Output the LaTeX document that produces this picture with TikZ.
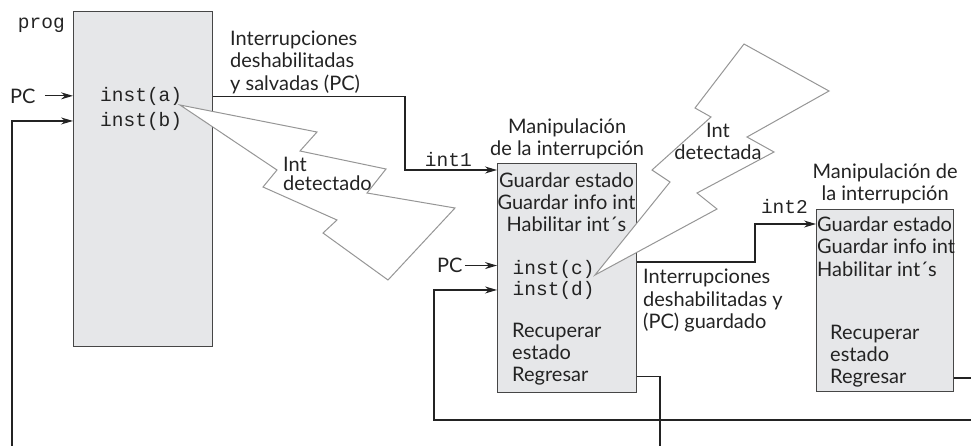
\documentclass[tikz,border=0pt]{standalone}
\usepackage{fontspec}
\setmainfont{Lato}
\setmonofont{Liberation Mono}
\usetikzlibrary{arrows.meta,positioning}
\definecolor{ink}{RGB}{35,35,35}
\definecolor{frame}{RGB}{70,70,70}
\definecolor{panel}{RGB}{230,231,233}
\definecolor{zap}{RGB}{150,150,150}
\tikzset{
  box/.style={draw=frame,fill=panel,line width=1.2pt,inner sep=0pt,anchor=north west},
  txt/.style={font=\fontsize{20}{22.3}\selectfont,text=ink,inner sep=0pt},
  mono/.style={font=\ttfamily\fontsize{19.5}{21}\selectfont,text=ink,inner sep=0pt},
  flow/.style={-{Stealth[length=12pt,width=7pt]},line width=1.1pt,draw=ink},
  wire/.style={line width=1.1pt,draw=ink},
  % lightning
  bolt/.style={draw=zap,fill=white,line width=1pt,line join=miter},
}

\begin{document}
\begin{tikzpicture}[x=1pt,y=-1pt]
    \useasboundingbox (0,0) rectangle (971,445);
    % boxes
    \node[box,minimum width=139pt,minimum height=335pt] (prog) at (73,11) {};
    \node[box,minimum width=139pt,minimum height=229pt] (h1) at (497,163) {};
    \node[box,minimum width=137pt,minimum height=182pt] (h2) at (816,209) {};
    % program
    \node[mono,anchor=base east] (pg) at (65,28) {prog};
    \node[txt,anchor=base west] (pc1) at (10,103) {PC};
    \node[mono,anchor=base west] (ia) at (100,101.5) {inst(a)};
    \node[mono,anchor=base west] (ib) at (100,126) {inst(b)};
    % first handler
    \node[txt,align=center,above=4pt of h1] (t1) {Manipulación\\de la interrupción};
    \node[txt,align=center,anchor=base] (g1) at (566.5,231.7) {Guardar estado\\Guardar info int\\Habilitar int´s};
    \node[txt,anchor=base west] (pc2) at (437,272.7) {PC};
    \node[mono,anchor=base west] (ic) at (512.5,274.3) {inst(c)};
    \node[mono,anchor=base west] (id) at (512.5,295) {inst(d)};
    \node[txt,align=left,anchor=base west] (r1) at (512,359.5) {Recuperar\\estado};
    \node[txt,anchor=base west] (rg1) at (512,381.7) {Regresar};
    % second handler
    \node[txt,align=center,above=5pt of h2] (t2) {Manipulación de\\la interrupción};
    \node[txt,align=left,anchor=base west] (g2) at (817,276) {Guardar estado\\Guardar info int\\Habilitar int´s};
    \node[txt,align=left,anchor=base west] (r2) at (830,361.7) {Recuperar\\estado};
    \node[txt,anchor=base west] (rg2) at (830,383.3) {Regresar};
    % labels
    \node[txt,align=left,anchor=base west] (l1) at (230,90) {Interrupciones\\deshabilitadas\\y salvadas (PC)};
    \node[mono,anchor=base east] (n1) at (472,166) {int1};
    \node[txt,align=left,anchor=base west] (l2) at (643,328.3) {Interrupciones\\deshabilitadas y\\(PC) guardado};
    \node[mono,anchor=base east] (n2) at (808,213) {int2};
    % connectors
    \coordinate (b1) at (12,460);
    \coordinate (k1) at (405,170);
    \coordinate (k2) at (755,224);
    \coordinate (k3) at (755,262);
    \coordinate (k4) at (434,420);
    \coordinate (o1) at (660,460);
    \coordinate (o2) at (980,420);
    \draw[flow,shorten <=9pt] (pc1) -- (pc1 -| prog.west);
    \draw[flow] (b1) |- (ib -| prog.west);
    \draw[flow] (ia -| prog.east) -| (k1) -- (k1 -| h1.west);
    \draw[flow,shorten <=2pt] (pc2) -- (pc2 -| h1.west);
    \draw[flow] (k3 -| h1.east) -- (k3) -- (k2) -- (k2 -| h2.west);
    \draw[wire] (rg1 -| h1.east) -| (o1);
    \draw[wire] (rg2 -| h2.east) -- (rg2 -| o2);
    \draw[flow] (o2) -- (k4) |- (id -| h1.west);
    % interrupts
    \draw[bolt] (180,105) -- (277,170) -- (263,187) -- (337,220) -- (323,233) -- (388,280) -- (455,208)
      -- (367,193) -- (386,169) -- (300,151) -- (317,132) -- cycle;
    \node[txt,align=left,anchor=base west] (z1) at (283,190.5) {Int\\[-3pt]detectado};
    \draw[bolt] (595,275) -- (670,182) -- (652,170) -- (711,117) -- (695,108) -- (744,44) -- (829,91)
      -- (747,137) -- (774,152) -- (697,193) -- (717,209) -- cycle;
    \node[txt,align=center,anchor=base] (z2) at (718,159.3) {Int\\detectada};
\end{tikzpicture}
\end{document}
